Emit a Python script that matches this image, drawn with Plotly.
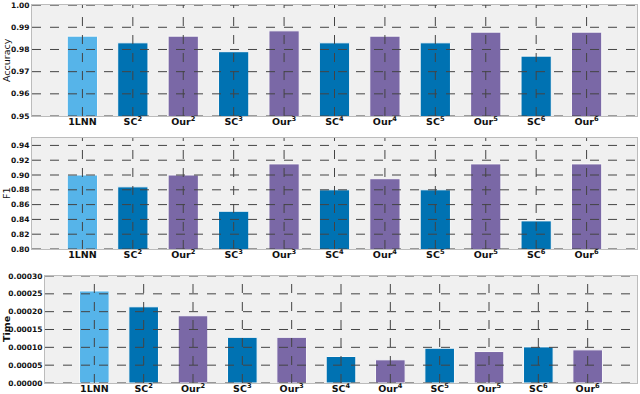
import plotly.graph_objects as go
from plotly.subplots import make_subplots

categories = ["1LNN", "SC2", "Our2", "SC3", "Our3", "SC4", "Our4", "SC5", "Our5", "SC6", "Our6"]
tick_labels = ["<b>1LNN</b>"] + [
    f"<b>{c[:-1]}<sup>{c[-1]}</sup></b>" for c in categories[1:]
]

accuracy = [0.986, 0.983, 0.986, 0.979, 0.9884, 0.983, 0.986, 0.983, 0.9878, 0.977, 0.9878]
f1 = [0.900, 0.884, 0.900, 0.851, 0.915, 0.880, 0.895, 0.880, 0.915, 0.838, 0.915]
time_s = [0.000258, 0.0002136, 0.0001885, 0.000128, 0.000128, 0.0000743,
          0.000065, 0.0000975, 0.0000882, 0.0001012, 0.0000929]

acc_ticks = [0.95, 0.96, 0.97, 0.98, 0.99, 1.00]
f1_ticks = [0.80, 0.82, 0.84, 0.86, 0.88, 0.90, 0.92, 0.94]
time_ticks = [0, 0.00005, 0.0001, 0.00015, 0.0002, 0.00025, 0.0003]

colors = []
for c in categories:
    if c == "1LNN":
        colors.append("#56B4E9")
    elif c.startswith("SC"):
        colors.append("#0072B2")
    else:
        colors.append("#7A68A6")

fig = make_subplots(rows=3, cols=1)
xs = list(range(len(categories)))

panels = [
    (accuracy, "Accuracy", acc_ticks, [0.95, 1.00005], "%.2f"),
    (f1, "F1", f1_ticks, [0.80, 0.95], "%.2f"),
    (time_s, "<b>Time</b>", time_ticks, [0, 0.0003000001], "%.5f"),
]
domains = [[0.7063, 1.0], [0.3545, 0.6481], [0.0, 0.2831]]
xdomains = [[0.0, 1.0], [0.0, 1.0], [13 / 605, 1.0]]

grid = dict(color="#444444", width=1, dash="dash")

for i, (vals, title, ticks, rng, fmt) in enumerate(panels):
    row = i + 1
    fig.add_trace(
        go.Bar(x=xs, y=vals, width=0.6, marker=dict(color=colors, line=dict(color="#f8f8f8", width=1)),
               showlegend=False, hoverinfo="skip"),
        row=row, col=1,
    )
    fig.update_xaxes(
        domain=xdomains[i], range=[-1, 11], tickvals=xs, ticktext=tick_labels,
        showgrid=False, zeroline=False, ticks="", tickfont=dict(size=9.5, color="#111"),
        ticklabelstandoff=-3,
        showline=True, linecolor="#bcbcbc", mirror=True, automargin=False, row=row, col=1,
    )
    fig.update_yaxes(
        domain=domains[i], range=rng, tickvals=ticks,
        ticktext=["<b>" + fmt % t + "</b>" for t in ticks],
        showgrid=False, zeroline=False, ticks="", tickfont=dict(size=7.5, color="#111"),
        showline=True, linecolor="#bcbcbc", mirror=True, automargin=False, row=row, col=1,
    )
    xref = "x" if row == 1 else f"x{row}"
    yref = "y" if row == 1 else f"y{row}"
    # y title placed at the left edge of the figure
    fig.add_annotation(text=title, xref="paper", yref=f"{yref} domain", x=-32 / 605, y=0.5,
                       xanchor="left", yanchor="middle", textangle=-90, showarrow=False,
                       borderpad=0, font=dict(size=9.5, color="#111"))
    # dashed grid on top of the bars, like the original
    for t in ticks:
        fig.add_shape(type="line", xref=f"{xref} domain", yref=yref, x0=0, x1=1, y0=t, y1=t,
                      line=grid, layer="above")
    for x in xs:
        fig.add_shape(type="line", xref=xref, yref=f"{yref} domain", x0=x, x1=x, y0=0, y1=1,
                      line=grid, layer="above")

fig.update_layout(
    width=640, height=394,
    margin=dict(l=32, r=3, t=5, b=11, autoexpand=False),
    paper_bgcolor="white", plot_bgcolor="#f0f0f0",
    font=dict(family="DejaVu Sans", color="#111"),
    bargap=0.4,
)

# the page body has a default 8px margin; drop it so the figure sits at the window corner
fig.write_html("out.html", config={"displayModeBar": False},
               post_script="document.body.style.margin='0';")
